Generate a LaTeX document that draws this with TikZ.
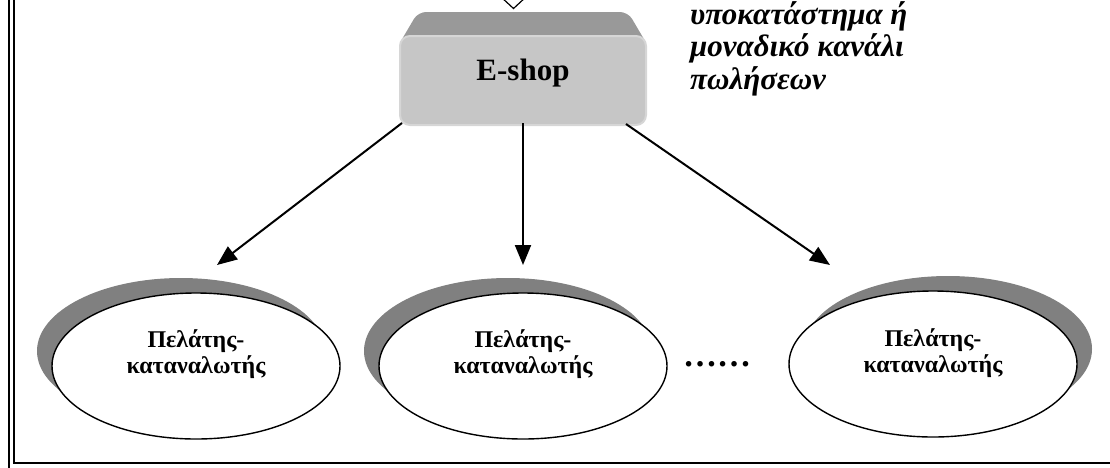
\documentclass[tikz,border=0pt]{standalone}
\usepackage{fontspec}
\setmainfont{Liberation Serif}
\usetikzlibrary{arrows.meta,shapes.geometric,shadows}
\definecolor{topface}{RGB}{153,153,153}
\definecolor{frontface}{RGB}{198,198,198}
\definecolor{frontedge}{RGB}{214,214,214}
\definecolor{shade}{RGB}{128,128,128}
\begin{document}
\begin{tikzpicture}[x=1pt,y=-1pt,
  frameline/.style={line width=2.2pt,black},
  link/.style={line width=2pt,-{Triangle[length=20pt,width=16pt]}},
  client/.style={ellipse,draw=black,line width=1.4pt,fill=white,
    minimum width=288pt,minimum height=146pt,inner sep=0pt},
  shadowleft/.style={drop shadow={shadow xshift=-15pt,shadow yshift=15pt,fill=shade,opacity=1}},
  shadowright/.style={drop shadow={shadow xshift=15pt,shadow yshift=15pt,fill=shade,opacity=1}},
  clienttext/.style={font=\bfseries\fontsize{24}{26}\selectfont,align=center,inner sep=0pt},
  ]
\useasboundingbox (0,0) rectangle (1110,467);

% double frame (left and bottom sides)
\draw[frameline] (9,-5) -- (9,475);
\draw[frameline] (14,-5) -- (14,463) -- (1115,463);

% head of the incoming block arrow
\draw[line width=1.2pt,fill=white] (500,-4) -- (527,-4) -- (513.5,8.5) -- cycle;

% E-shop block: top bevel and front face
\fill[topface,rounded corners=8pt] (398,46) -- (418,12) -- (628,12) -- (648,46) -- cycle;
\node[draw=frontedge,line width=2pt,fill=frontface,rounded corners=10pt,
  minimum width=246pt,minimum height=89pt,text height=10pt,text depth=10pt,
  font=\bfseries\fontsize{31}{34}\selectfont] (eshop) at (523,80.5) {E-shop};

% side note
\node[anchor=north west,align=left,inner sep=0pt,
  font=\bfseries\itshape\fontsize{31}{32.6}\selectfont] (note) at (690,1)
  {υποκατάστημα ή\\μοναδικό κανάλι\\πωλήσεων};

% customers
\node[client,shadowleft] (c1) at (196,366) {};
\node[client,shadowleft] (c2) at (523,366) {};
\node[client,shadowright] (c3) at (933,364) {};
\node[clienttext] (c1t) at (196,354) {Πελάτης-\\καταναλωτής};
\node[clienttext] (c2t) at (523,354) {Πελάτης-\\καταναλωτής};
\node[clienttext] (c3t) at (933,353) {Πελάτης-\\καταναλωτής};
\node[font=\bfseries\fontsize{34}{34}\selectfont,inner sep=0pt] (dots) at (717,364) {……};

% connectors
\coordinate (t1) at (217,265);
\coordinate (t2) at (523,265);
\coordinate (t3) at (830,265);
\draw[link] ([shift={(3,-3)}]eshop.south west) -- (t1);
\draw[link] ([shift={(0,-3)}]eshop.south) -- (t2);
\draw[link] ([shift={(-21,-2)}]eshop.south east) -- (t3);
\end{tikzpicture}
\end{document}
